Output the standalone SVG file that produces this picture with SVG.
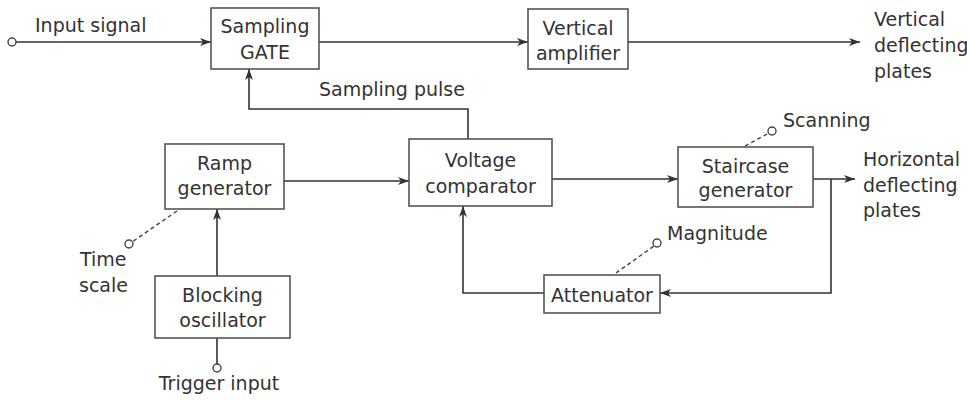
<svg xmlns="http://www.w3.org/2000/svg" width="967" height="400" viewBox="0 0 967 400">
<defs>
<marker id="arr" markerWidth="12" markerHeight="10" refX="11" refY="5" orient="auto" markerUnits="userSpaceOnUse">
<path d="M0,1 L11,5 L0,9 L3,5 Z" fill="#333"/>
</marker>
</defs>
<style>
text{font-family:"DejaVu Sans","Liberation Sans",sans-serif;font-size:19px;fill:#333}
.c{text-anchor:middle}
.box{fill:#fff;stroke:#555;stroke-width:1.6}
.ln{fill:none;stroke:#333;stroke-width:1.6}
.ds{fill:none;stroke:#444;stroke-width:1.4;stroke-dasharray:4,3}
.pt{fill:#fff;stroke:#444;stroke-width:1.4}
</style>
<rect width="967" height="400" fill="#fff"/>
<g id="connectors">
<line class="ln" x1="16" y1="42" x2="211" y2="42" marker-end="url(#arr)"/>
<line class="ln" x1="319" y1="42" x2="528" y2="42" marker-end="url(#arr)"/>
<line class="ln" x1="628" y1="42" x2="860" y2="42" marker-end="url(#arr)"/>
<polyline class="ln" points="468,139 468,109 249,109 249,69" marker-end="url(#arr)"/>
<line class="ln" x1="284" y1="181" x2="409" y2="181" marker-end="url(#arr)"/>
<line class="ln" x1="217" y1="276" x2="217" y2="209" marker-end="url(#arr)"/>
<line class="ln" x1="217" y1="338" x2="217" y2="364"/>
<line class="ln" x1="552" y1="179" x2="678" y2="179" marker-end="url(#arr)"/>
<line class="ln" x1="813" y1="179" x2="855" y2="179" marker-end="url(#arr)"/>
<polyline class="ln" points="831,179 831,293 660,293" marker-end="url(#arr)"/>
<polyline class="ln" points="544,293 463,293 463,206" marker-end="url(#arr)"/>
<line class="ds" x1="177" y1="211" x2="132" y2="242"/>
<line class="ds" x1="616" y1="273" x2="654" y2="246"/>
<line class="ds" x1="745" y1="146" x2="769" y2="133"/>
<circle class="pt" cx="12" cy="42" r="4"/>
<circle class="pt" cx="217" cy="368" r="4"/>
<circle class="pt" cx="129" cy="244" r="4"/>
<circle class="pt" cx="657" cy="243" r="4"/>
<circle class="pt" cx="772" cy="131" r="4"/>
</g>
<g id="sampling-gate">
<rect class="box" x="211" y="8" width="108" height="61"/>
<text class="c" x="265" y="33">Sampling</text>
<text class="c" x="265" y="59">GATE</text>
</g>
<g id="vertical-amplifier">
<rect class="box" x="528" y="9" width="100" height="60"/>
<text class="c" x="578" y="35">Vertical</text>
<text class="c" x="578" y="60">amplifier</text>
</g>
<g id="ramp-generator">
<rect class="box" x="165" y="144" width="119" height="65"/>
<text class="c" x="224.5" y="170">Ramp</text>
<text class="c" x="224.5" y="195">generator</text>
</g>
<g id="voltage-comparator">
<rect class="box" x="409" y="139" width="143" height="67"/>
<text class="c" x="480.5" y="167">Voltage</text>
<text class="c" x="480.5" y="193">comparator</text>
</g>
<g id="staircase-generator">
<rect class="box" x="678" y="147" width="135" height="60"/>
<text class="c" x="745.5" y="173">Staircase</text>
<text class="c" x="745.5" y="197">generator</text>
</g>
<g id="blocking-oscillator">
<rect class="box" x="155" y="276" width="135" height="62"/>
<text class="c" x="222.5" y="302">Blocking</text>
<text class="c" x="222.5" y="327">oscillator</text>
</g>
<g id="attenuator">
<rect class="box" x="544" y="275" width="116" height="38"/>
<text class="c" x="602" y="302">Attenuator</text>
</g>
<g id="labels">
<text x="35" y="32">Input signal</text>
<text x="319" y="96">Sampling pulse</text>
<text x="874" y="26">Vertical</text>
<text x="874" y="52">deflecting</text>
<text x="874" y="78">plates</text>
<text x="783" y="127">Scanning</text>
<text x="863" y="166">Horizontal</text>
<text x="863" y="192">deflecting</text>
<text x="863" y="217">plates</text>
<text x="667" y="240">Magnitude</text>
<text x="80" y="266">Time</text>
<text x="79" y="292">scale</text>
<text class="c" x="219" y="390">Trigger input</text>
</g>
</svg>
